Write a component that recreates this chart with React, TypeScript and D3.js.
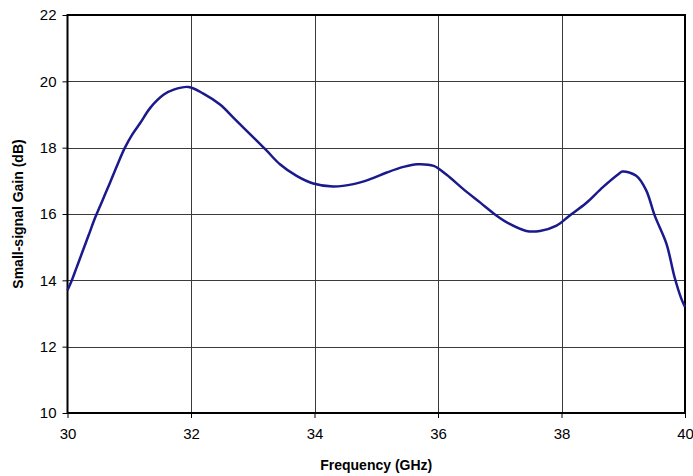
import React, { useEffect, useRef } from 'react';
import * as d3 from 'd3';

// frequency (GHz) and small-signal gain (dB)
const freqGHz = [
  30.0, 30.07, 30.15, 30.23, 30.34, 30.45, 30.53, 30.61, 30.69, 30.8,
  30.93, 31.05, 31.18, 31.34, 31.56, 31.72, 31.96, 32.2, 32.47, 32.69,
  32.96, 33.23, 33.44, 33.71, 33.98, 34.3, 34.63, 34.9, 35.17, 35.44,
  35.66, 35.93, 36.14, 36.41, 36.68, 36.95, 37.16, 37.43, 37.65, 37.92,
  38.13, 38.4, 38.67, 38.92, 38.99, 39.21, 39.37, 39.51, 39.7, 39.83,
  39.94, 40.0,
];
const gainDb = [
  13.7, 14.0, 14.4, 14.8, 15.35, 15.9, 16.25, 16.6, 16.95, 17.45,
  18.0, 18.4, 18.75, 19.2, 19.6, 19.75, 19.83, 19.63, 19.3, 18.9,
  18.4, 17.9, 17.5, 17.15, 16.92, 16.83, 16.9, 17.05, 17.25, 17.42,
  17.5, 17.45, 17.18, 16.75, 16.35, 15.95, 15.7, 15.49, 15.49, 15.65,
  15.95, 16.33, 16.81, 17.2, 17.28, 17.15, 16.72, 15.95, 15.1, 14.1,
  13.45, 13.2,
];
const xTicks = [30, 32, 34, 36, 38, 40];
const yTicks = [10, 12, 14, 16, 18, 20, 22];

const W = 693;
const H = 476;
const FONT = '"Liberation Sans", Arial, sans-serif';

const GainChart: React.FC = () => {
  const svgRef = useRef<SVGSVGElement>(null);

  useEffect(() => {
    if (!svgRef.current) return;
    const svg = d3.select(svgRef.current);
    svg.selectAll('*').remove();

    const left = 67.5, right = 685, top = 15, bottom = 413;

    const x = d3.scaleLinear().domain([30, 40]).range([left, right]);
    const y = d3.scaleLinear().domain([10, 22]).range([bottom, top]);

    svg.append('rect').attr('width', W).attr('height', H).attr('fill', '#ffffff');

    // grid
    const grid = svg.append('g').attr('stroke', '#3a3a3a').attr('stroke-width', 1);
    grid.selectAll('line.v')
      .data(xTicks.slice(1, -1))
      .join('line')
      .attr('x1', d => Math.round(x(d)) + 0.5)
      .attr('x2', d => Math.round(x(d)) + 0.5)
      .attr('y1', top)
      .attr('y2', bottom);
    grid.selectAll('line.h')
      .data(yTicks.slice(1, -1))
      .join('line')
      .attr('x1', left)
      .attr('x2', right)
      .attr('y1', d => Math.round(y(d)) + 0.5)
      .attr('y2', d => Math.round(y(d)) + 0.5);

    // axes
    const xAxis = d3.axisBottom(x).tickValues(xTicks).tickSize(5).tickFormat(d3.format('d'));
    const gx = svg.append('g').attr('transform', `translate(0,${bottom})`).call(xAxis);
    const yAxis = d3.axisLeft(y).tickValues(yTicks).tickSize(5).tickFormat(d3.format('d'));
    const gy = svg.append('g').attr('transform', `translate(${left},0)`).call(yAxis);

    [gx, gy].forEach(g => {
      g.select('.domain').remove();
      g.selectAll('line').attr('stroke', '#000').attr('stroke-width', 1);
      g.selectAll('text')
        .style('font-family', FONT)
        .style('font-size', '15px')
        .attr('fill', '#000');
    });
    gx.selectAll('text').attr('y', 15);
    gy.selectAll('text').attr('x', -11);

    // frame
    svg.append('rect')
      .attr('x', left)
      .attr('y', top)
      .attr('width', right - left)
      .attr('height', bottom - top)
      .attr('fill', 'none')
      .attr('stroke', '#000')
      .attr('stroke-width', 2);

    // gain curve
    const pts: [number, number][] = freqGHz.map((f, i) => [f, gainDb[i]]);
    const line = d3.line<[number, number]>()
      .x(d => x(d[0]))
      .y(d => y(d[1]))
      .curve(d3.curveCatmullRom.alpha(0.5));
    svg.append('path')
      .datum(pts)
      .attr('d', line)
      .attr('fill', 'none')
      .attr('stroke', '#1a1a8c')
      .attr('stroke-width', 2.5)
      .attr('stroke-linejoin', 'round');

    // titles
    svg.append('text')
      .attr('x', (left + right) / 2)
      .attr('y', 470)
      .attr('text-anchor', 'middle')
      .style('font-family', FONT)
      .style('font-size', '14px')
      .style('font-weight', 'bold')
      .text('Frequency (GHz)');

    svg.append('text')
      .attr('transform', `translate(23,${(top + bottom) / 2}) rotate(-90)`)
      .attr('text-anchor', 'middle')
      .style('font-family', FONT)
      .style('font-size', '14px')
      .style('font-weight', 'bold')
      .text('Small-signal Gain (dB)');
  }, []);

  return <svg ref={svgRef} width={W} height={H} style={{ display: 'block' }}></svg>;
};

export default function App() {
  return (
    <div style={{ position: 'absolute', left: 0, top: 0 }}>
      <GainChart />
    </div>
  );
}
